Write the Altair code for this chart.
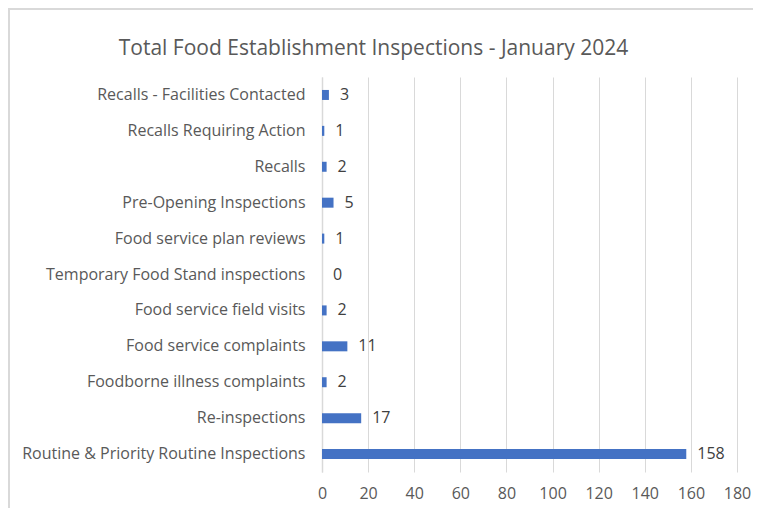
import altair as alt
import pandas as pd

categories = [
    "Recalls - Facilities Contacted",
    "Recalls Requiring Action",
    "Recalls",
    "Pre-Opening Inspections",
    "Food service plan reviews",
    "Temporary Food Stand inspections",
    "Food service field visits",
    "Food service complaints",
    "Foodborne illness complaints",
    "Re-inspections",
    "Routine & Priority Routine Inspections",
]
values = [3, 1, 2, 5, 1, 0, 2, 11, 2, 17, 158]
x_ticks = [0, 20, 40, 60, 80, 100, 120, 140, 160, 180]

df = pd.DataFrame({"category": categories, "value": values})

FONT = "Open Sans"
TXT = "#595959"

bars = alt.Chart(df).mark_bar(color="#4472C4", height=10).encode(
    x=alt.X("value:Q", title=None,
            scale=alt.Scale(domain=[0, 180], nice=False),
            axis=alt.Axis(values=x_ticks, grid=True, gridColor="#D9D9D9", gridWidth=1,
                          domain=False, ticks=False, labelPadding=13, labelFlush=False,
                          labelOverlap=False,
                          labelFont=FONT, labelFontSize=16, labelColor=TXT)),
    y=alt.Y("category:N", sort=categories, title=None,
            scale=alt.Scale(paddingInner=0, paddingOuter=0),
            axis=alt.Axis(ticks=False, domain=True, domainColor="#D9D9D9", domainWidth=1.5,
                          labelPadding=17, labelLimit=400,
                          labelFont=FONT, labelFontSize=16, labelColor=TXT)),
)

labels = alt.Chart(df).mark_text(align="left", baseline="middle", dx=11,
                                 font=FONT, fontSize=16, color="#404040").encode(
    x="value:Q",
    y=alt.Y("category:N", sort=categories),
    text="value:Q",
)

border_top = alt.Chart(df).mark_rule(color="#D9D9D9", strokeWidth=2).encode(
    x=alt.value(-314), x2=alt.value(440), y=alt.value(-68))
border_left = alt.Chart(df).mark_rule(color="#D9D9D9", strokeWidth=2).encode(
    x=alt.value(-313), y=alt.value(-69), y2=alt.value(431))

chart = alt.layer(bars, labels, border_top, border_left).properties(
    width=415,
    height=395,
    autosize=alt.AutoSizeParams(type="none"),
    padding={"left": 314, "top": 69, "right": 16, "bottom": 36},
    title=alt.TitleParams("Total Food Establishment Inspections  - January 2024",
                          font=FONT, fontSize=21, fontWeight="normal", color=TXT,
                          anchor="middle", frame="group", dx=-156, offset=-52),
).configure_view(stroke=None)

chart.save("out.html", embed_options={"renderer": "svg", "actions": False})
